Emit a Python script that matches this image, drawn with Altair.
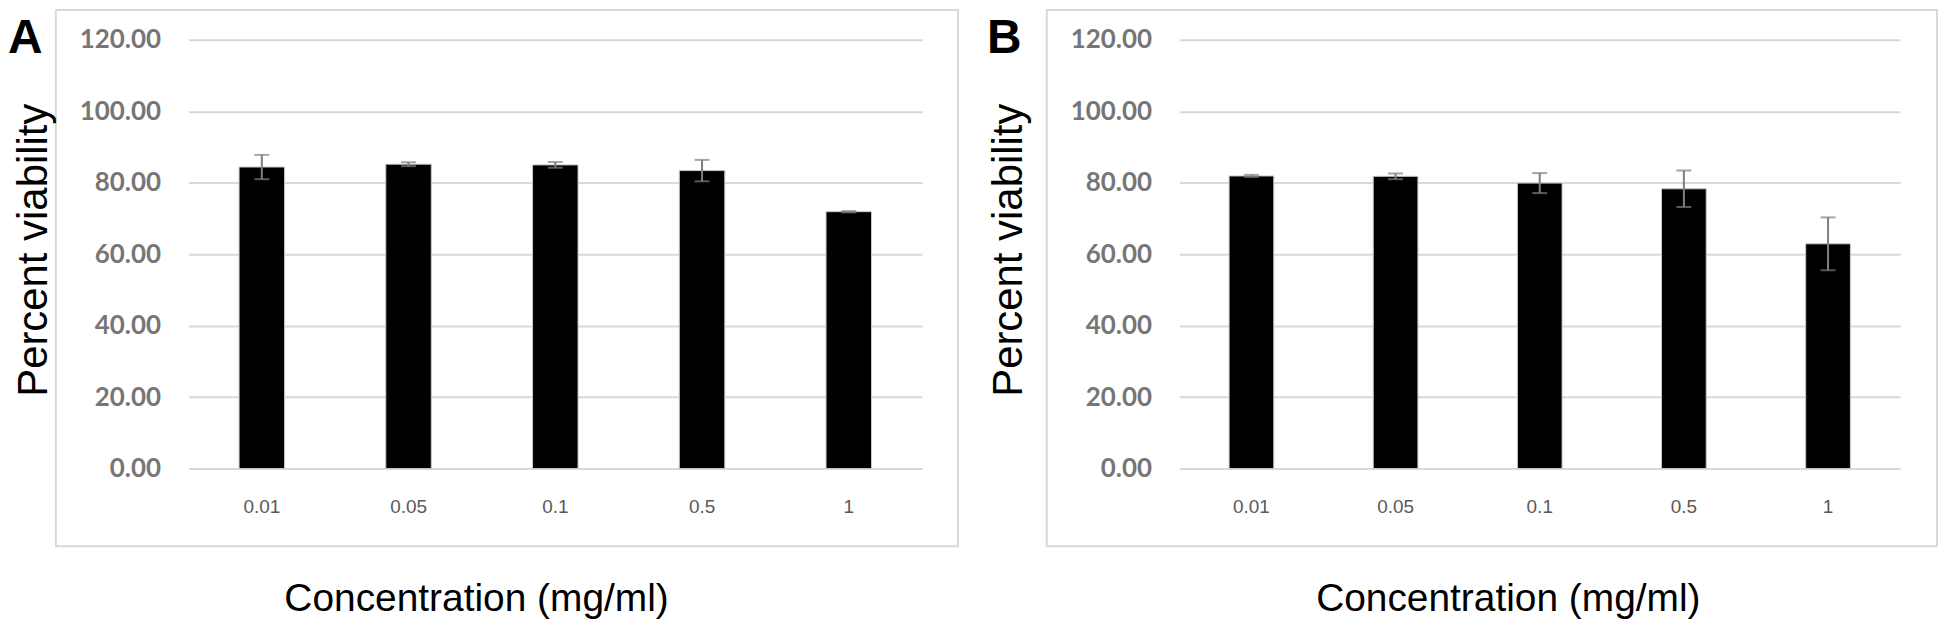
import altair as alt
import pandas as pd

concentrations = ["0.01", "0.05", "0.1", "0.5", "1"]
a_mean = [84.4, 85.2, 85.0, 83.4, 71.9]
a_err = [3.4, 0.55, 0.8, 3.0, 0.2]
b_mean = [81.9, 81.8, 79.9, 78.3, 62.9]
b_err = [0.3, 0.8, 2.8, 5.1, 7.4]
y_ticks = [0, 20, 40, 60, 80, 100, 120]

y_title = "Percent viability"
x_title = "Concentration (mg/ml)"

FONT = "Liberation Sans"
H = 430


def one():
    return pd.DataFrame({"v": [0]})


def panel(letter, means, errs, width, frame_x2, letter_x, ytitle_x, xtitle_x, anchor=False):
    df = pd.DataFrame({
        "conc": concentrations,
        "mean": means,
        "lo": [m - e for m, e in zip(means, errs)],
        "hi": [m + e for m, e in zip(means, errs)],
    })
    xenc = alt.X("conc:N", sort=concentrations, title=None,
                 scale=alt.Scale(paddingInner=0.69, paddingOuter=0.345),
                 axis=alt.Axis(labelAngle=0))
    yscale = alt.Scale(domain=[0, 120], nice=False, zero=True)
    base = alt.Chart(df)
    bars = base.mark_bar(color="black", stroke="#c8c8c8", strokeWidth=1).encode(
        x=xenc,
        y=alt.Y("mean:Q", scale=yscale, title=None,
                axis=alt.Axis(values=y_ticks, format=".2f")),
    )
    rule = base.mark_rule(color="#7f7f7f", strokeWidth=2).encode(
        x=alt.X("conc:N", sort=concentrations),
        y=alt.Y("lo:Q", scale=yscale),
        y2="hi:Q",
    )
    cap_hi = base.mark_tick(color="#7f7f7f", size=15, thickness=2).encode(
        x=alt.X("conc:N", sort=concentrations),
        y=alt.Y("hi:Q", scale=yscale),
    )
    cap_lo = base.mark_tick(color="#7f7f7f", size=15, thickness=2).encode(
        x=alt.X("conc:N", sort=concentrations),
        y=alt.Y("lo:Q", scale=yscale),
    )
    frame = alt.Chart(one()).mark_rect(fill="white", fillOpacity=0, stroke="#d9d9d9", strokeWidth=2).encode(
        x=alt.value(-133), x2=alt.value(frame_x2), y=alt.value(-30), y2=alt.value(508)
    )
    let = alt.Chart(one()).mark_text(
        text=letter, font=FONT, fontWeight="bold", fontSize=48, align="left",
        baseline="alphabetic", color="black"
    ).encode(x=alt.value(letter_x), y=alt.value(13))
    yt = alt.Chart(one()).mark_text(
        text=y_title, font=FONT, fontSize=42, angle=270, align="center",
        baseline="alphabetic", color="black"
    ).encode(x=alt.value(ytitle_x), y=alt.value(211))
    xt = alt.Chart(one()).mark_text(
        text=x_title, font=FONT, fontSize=39, align="center",
        baseline="alphabetic", color="black"
    ).encode(x=alt.value(xtitle_x), y=alt.value(H + 143))
    layers = [frame, bars, rule, cap_hi, cap_lo, let, yt, xt]
    if anchor:
        inv = alt.Chart(one()).mark_rect(opacity=0).encode(
            x=alt.value(-181), x2=alt.value(1755), y=alt.value(-31), y2=alt.value(585)
        )
        layers = [inv] + layers
    return alt.layer(*layers).properties(width=width, height=H)


pa = panel("A", a_mean, a_err, 736, 772, -181, -142, 289, anchor=True)
pb = panel("B", b_mean, b_err, 723, 760, -193, -158, 330)

chart = alt.hconcat(pa, pb, spacing=258, bounds="flush").properties(
    padding=0, autosize=alt.AutoSizeParams(type="pad"), background="white"
).configure_view(strokeWidth=0).configure_axisY(
    labelFont="Lato", labelFontWeight="bold", labelFontSize=26, labelColor="#767676",
    labelPadding=28, ticks=False, domain=False, grid=True, gridColor="#d9d9d9", gridWidth=2
).configure_axisX(
    labelFont=FONT, labelFontSize=19, labelColor="#595959", labelPadding=29,
    ticks=False, domain=False, grid=False
)

chart.save("out.html", embed_options={"renderer": "svg", "actions": False})
